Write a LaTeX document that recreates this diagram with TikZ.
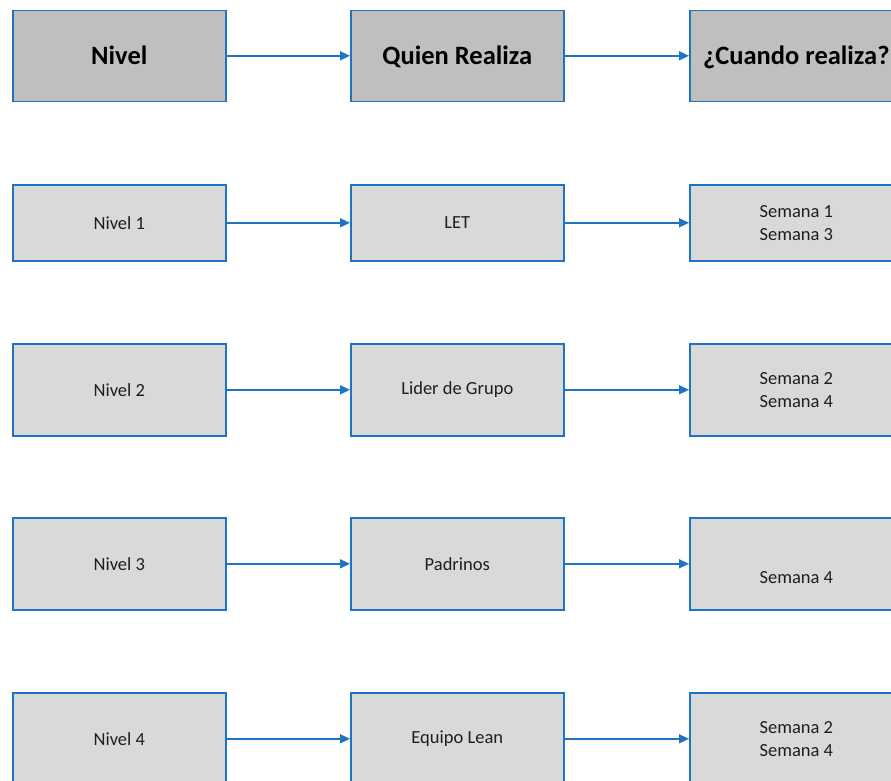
\documentclass[tikz,border=0pt]{standalone}
\usepackage{fontspec}
\setmainfont{Carlito}
\usetikzlibrary{arrows.meta}
\definecolor{bordblue}{RGB}{30,115,195}
\definecolor{headfill}{RGB}{191,191,191}
\definecolor{cellfill}{RGB}{217,217,217}
\definecolor{txt}{RGB}{30,30,30}
\tikzset{
  headbox/.style={draw=bordblue, line width=1.6pt, fill=headfill, minimum width=213pt, minimum height=91pt, inner sep=0pt, anchor=north west, font=\fontsize{26.5}{30}\selectfont\bfseries, text=black, text height=18pt, text depth=1pt},
  cellbox/.style={draw=bordblue, line width=1.6pt, fill=cellfill, anchor=north west, minimum width=213pt, inner sep=0pt, align=center, font=\fontsize{18.5}{23}\selectfont, text=txt},
  flow/.style={draw=bordblue, line width=1.6pt, -{Triangle[length=10pt,width=9pt]}}
}
\begin{document}
\begin{tikzpicture}[x=1pt,y=-1pt]
\useasboundingbox (0,0) rectangle (891,780);
\clip (0,0) rectangle (891,780);
\fill[white] (0,0) rectangle (891,780);
% header
\node[headbox] (h1) at (12,9.5) {Nivel};
\node[headbox] (h2) at (350,9.5) {Quien Realiza};
\node[headbox] (h3) at (689,9.5) {¿Cuando realiza?};
% row 1
\node[cellbox, minimum height=76pt] (a1) at (12,184) {Nivel 1};
\node[cellbox, minimum height=76pt] (b1) at (350,184) {LET};
\node[cellbox, minimum height=76pt] (c1) at (689,184) {Semana 1\\Semana 3};
% row 2
\node[cellbox, minimum height=92pt] (a2) at (12,343) {Nivel 2};
\node[cellbox, minimum height=92pt] (b2) at (350,343) {Lider de Grupo};
\node[cellbox, minimum height=92pt] (c2) at (689,343) {Semana 2\\Semana 4};
% row 3
\node[cellbox, minimum height=92pt] (a3) at (12,517) {Nivel 3};
\node[cellbox, minimum height=92pt] (b3) at (350,517) {Padrinos};
\node[cellbox, minimum height=92pt] (c3) at (689,517) {\strut\\Semana 4};
% row 4
\node[cellbox, minimum height=92pt] (a4) at (12,692) {Nivel 4};
\node[cellbox, minimum height=92pt] (b4) at (350,692) {Equipo Lean};
\node[cellbox, minimum height=92pt] (c4) at (689,692) {Semana 2\\Semana 4};
% arrows
\draw[flow] (h1) -- (h2);
\draw[flow] (h2) -- (h3);
\draw[flow] (a1) -- (b1);
\draw[flow] (b1) -- (c1);
\draw[flow] (a2) -- (b2);
\draw[flow] (b2) -- (c2);
\draw[flow] (a3) -- (b3);
\draw[flow] (b3) -- (c3);
\draw[flow] (a4) -- (b4);
\draw[flow] (b4) -- (c4);
\end{tikzpicture}
\end{document}
